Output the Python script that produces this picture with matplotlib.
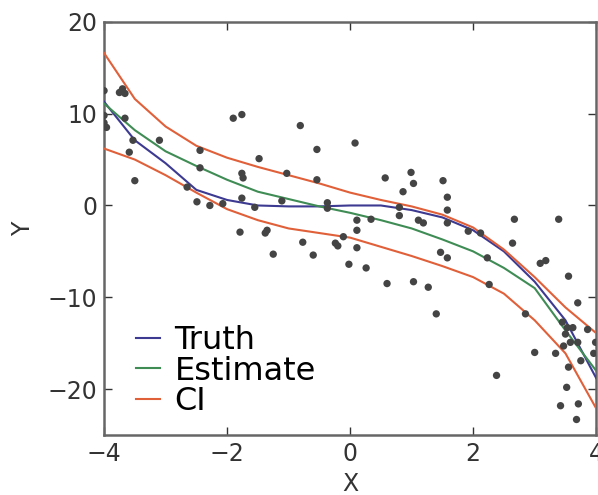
import matplotlib
matplotlib.use('Agg')
import matplotlib.pyplot as plt
import numpy as np

# curve samples, x step 0.5
x_grid = [-4, -3.5, -3, -2.5, -2, -1.5, -1, -0.5, 0, 0.5, 1, 1.5, 2, 2.5, 3, 3.5, 4]
truth = [11.3, 7.1, 4.6, 1.7, 0.6, 0.0, -0.1, -0.1, 0.0, 0.0, -0.5, -1.3, -2.7, -5.0, -8.3, -12.5, -18.8]
estimate = [11.1, 8.2, 5.9, 4.3, 2.8, 1.5, 0.7, -0.1, -0.8, -1.6, -2.5, -3.7, -5.0, -6.8, -9.0, -13.6, -18.0]
ci_upper = [16.6, 11.6, 8.6, 6.5, 5.2, 4.2, 3.3, 2.4, 1.4, 0.6, -0.1, -1.0, -2.4, -4.8, -7.8, -11.1, -13.9]
ci_lower = [6.2, 5.0, 3.3, 1.4, -0.4, -1.6, -2.5, -3.0, -3.5, -4.5, -5.5, -6.6, -7.8, -9.6, -12.5, -16.1, -22.1]

# observed points
pts_x = [-4.0, -3.75, -3.66, -3.7, -4.0, -4.0, -3.96, -3.66, -3.53, -3.59, -3.5, -3.1,
         -2.44, -2.44, -2.65, -2.49, -2.28, -2.07, -1.9, -1.76, -1.76, -1.74, -1.76, -1.55,
         -1.48, -0.81, -0.54, 0.08, -1.03, -0.54, -1.11, -0.37, -0.37, -1.35, -1.38, -1.25,
         -0.77, -0.6, -0.24, -0.2, -0.11, 0.11, 0.11, 0.34, 0.11, -0.02, 0.26, 0.57, 0.99,
         1.03, 0.86, 0.8, 0.8, 1.11, 1.19, 1.51, 1.58, 1.58, 1.58, 1.47, 1.58, 0.6, 1.03,
         1.27, 1.4, 1.92, 2.12, 2.67, 3.39, 2.64, 2.23, 3.09, 3.18, 3.55, 2.26, 3.7, 2.85,
         3.45, 3.53, 3.62, 3.86, 3.99, 3.5, 3.58, 3.47, 3.7, 3.75, 3.96, 3.0, 3.34, 3.55,
         2.38, 3.52, 3.42, 3.71, 3.68, -1.79]
pts_y = [12.5, 12.3, 12.2, 12.7, 9.8, 9.0, 8.5, 9.5, 7.1, 5.8, 2.7, 7.1,
         6.0, 4.1, 2.0, 0.4, 0.0, 0.2, 9.5, 9.9, 3.5, 3.0, 0.8, -0.2,
         5.1, 8.7, 6.1, 6.8, 3.5, 2.8, 0.5, 0.3, -0.3, -2.7, -3.0, -5.3,
         -4.0, -5.4, -4.1, -4.4, -3.4, -1.6, -2.7, -1.5, -4.6, -6.4, -6.8, 3.0, 3.6,
         2.4, 1.5, -0.2, -1.1, -1.6, -1.9, 2.7, 0.9, -0.5, -1.9, -5.1, -5.7, -8.5, -8.3,
         -8.9, -11.8, -2.8, -3.0, -1.5, -1.5, -4.1, -5.7, -6.3, -6.0, -7.7, -8.6, -10.6, -11.8,
         -12.7, -13.3, -13.3, -13.5, -14.9, -14.0, -14.9, -15.3, -14.9, -16.9, -16.1, -16.0, -16.1, -17.6,
         -18.5, -19.8, -21.8, -21.6, -23.3, -2.9]

fig = plt.figure(figsize=(5.98, 4.95), dpi=100)
ax = fig.add_axes([0.174, 0.121, 0.823, 0.835])

ax.plot(x_grid, truth, color='#3d3a92', lw=1.5, label='Truth', zorder=3)
ax.plot(x_grid, estimate, color='#3f8c55', lw=1.5, label='Estimate', zorder=3)
ax.plot(x_grid, ci_upper, color='#e0603a', lw=1.5, label='CI', zorder=3)
ax.plot(x_grid, ci_lower, color='#e0603a', lw=1.5, zorder=3)
ax.scatter(pts_x, pts_y, s=28, color='#444444', edgecolors='none', zorder=4)

ax.set_xlim(-4, 4)
ax.set_ylim(-25, 20)
ax.set_xticks([-4, -2, 0, 2, 4])
ax.set_yticks([-20, -10, 0, 10, 20])
ax.tick_params(direction='in', top=True, right=True, length=6, width=1,
               labelsize=17, colors='#333333', pad=5)
for sp in ax.spines.values():
    sp.set_color('#666666')
    sp.set_linewidth(1.8)
ax.set_xlabel('X', fontsize=17, color='#333333', labelpad=4)
ax.set_ylabel('Y', fontsize=17, color='#333333', labelpad=9)

ax.legend(loc='lower left', frameon=False, fontsize=23, handlelength=0.75,
          handletextpad=0.45, labelspacing=-0.02, borderaxespad=0.3,
          bbox_to_anchor=(0.02, -0.01))

fig.savefig('out.png', dpi=100)
